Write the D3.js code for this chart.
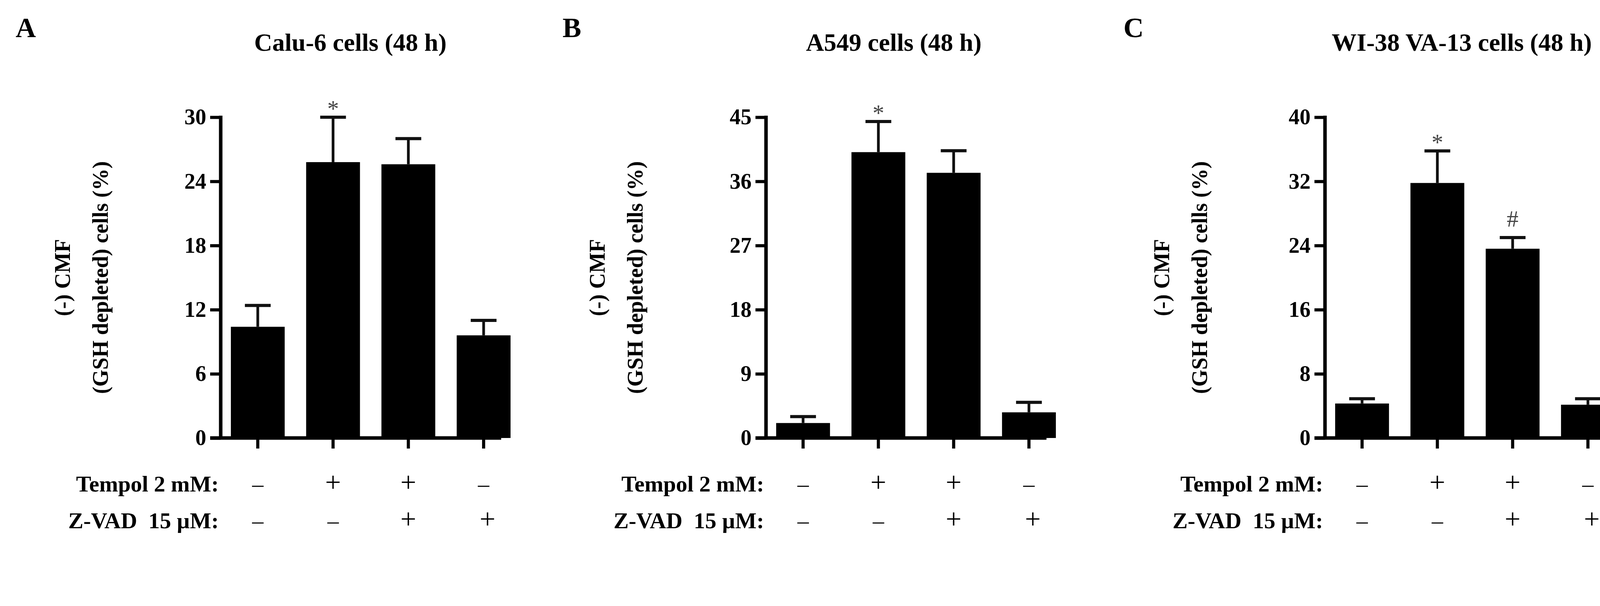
<!DOCTYPE html>
<html>
<head>
<meta charset="utf-8">
<script src="https://cdn.jsdelivr.net/npm/d3@7"></script>
<style>
  body { margin: 0; background: #fff; }
  svg { display: block; font-family: "Liberation Serif", "Times New Roman", serif; font-weight: bold; }
</style>
</head>
<body>
<svg width="4190" height="1551"></svg>
<script>
// Data
var panelLetters = ['A', 'B', 'C'];
var panelTitles = ['Calu-6 cells (48 h)', 'A549 cells (48 h)', 'WI-38 VA-13 cells (48 h)'];
var yMax = [30, 45, 40];
var yTicks = [[0, 6, 12, 18, 24, 30], [0, 9, 18, 27, 36, 45], [0, 8, 16, 24, 32, 40]];
var means = [[10.4, 25.8, 25.6, 9.6], [2.1, 40.1, 37.2, 3.6], [4.3, 31.8, 23.6, 4.15]];
var errTops = [[12.4, 30.0, 28.0, 11.0], [3.0, 44.4, 40.3, 5.0], [4.9, 35.8, 25.0, 4.9]];
var marks = [['', '*', '', ''], ['', '*', '', ''], ['', '*', '#', '']];
var tempol = ['-', '+', '+', '-'];
var zvad = ['-', '-', '+', '+'];
var rowLabels = ['Tempol 2 mM:', 'Z-VAD  15 \u00b5M:'];

// Layout
var axisX = [565, 1961, 3392];
var titleX = [897, 2288, 3742];
var letterX = [40, 1440, 2876];
var yLabelOffset = [-386, -413, -399];
var plotTop = 300, plotBottom = 1121;

var svg = d3.select('svg');

panelTitles.forEach(function (title, p) {
    var g = svg.append('g').attr('transform', 'translate(' + axisX[p] + ',0)');

    var y = d3.scaleLinear().domain([0, yMax[p]]).range([plotBottom, plotTop]);
    var x = d3.scaleBand().domain(d3.range(4)).range([26, 26 + 179 * 4]).paddingInner(0.285).paddingOuter(0);
    var cx = function (i) { return x(i) + x.bandwidth() / 2; };

    svg.append('text').attr('x', letterX[p]).attr('y', 95)
        .attr('font-size', 72).text(panelLetters[p]);
    svg.append('text').attr('x', titleX[p]).attr('y', 130)
        .attr('text-anchor', 'middle').attr('font-size', 64).text(title);

    // bars
    g.selectAll('rect.bar').data(means[p]).enter().append('rect')
        .attr('class', 'bar')
        .attr('x', function (d, i) { return x(i); })
        .attr('width', x.bandwidth())
        .attr('y', function (d) { return y(d); })
        .attr('height', function (d) { return y(0) - y(d); })
        .attr('fill', '#000');

    // error bars
    g.selectAll('line.err').data(means[p]).enter().append('line')
        .attr('class', 'err')
        .attr('x1', function (d, i) { return cx(i); })
        .attr('x2', function (d, i) { return cx(i); })
        .attr('y1', function (d) { return y(d); })
        .attr('y2', function (d, i) { return y(errTops[p][i]); })
        .attr('stroke', '#111').attr('stroke-width', 7);
    g.selectAll('line.cap').data(errTops[p]).enter().append('line')
        .attr('class', 'cap')
        .attr('x1', function (d, i) { return cx(i) - 33; })
        .attr('x2', function (d, i) { return cx(i) + 33; })
        .attr('y1', function (d) { return y(d); })
        .attr('y2', function (d) { return y(d); })
        .attr('stroke', '#111').attr('stroke-width', 8);

    // significance marks
    g.selectAll('text.mark').data(marks[p]).enter().append('text')
        .attr('class', 'mark')
        .attr('x', function (d, i) { return cx(i); })
        .attr('y', function (d, i) { return y(errTops[p][i]) - (d === '#' ? 28 : 2); })
        .attr('text-anchor', 'middle').attr('font-size', 60)
        .attr('font-weight', 'normal').attr('fill', '#444')
        .text(function (d) { return d; });

    // y axis
    var ya = g.append('g').call(d3.axisLeft(y).tickValues(yTicks[p]).tickSize(27).tickPadding(10));
    ya.select('.domain').attr('stroke-width', 9).attr('d', 'M0,' + (plotBottom + 4) + 'V' + (plotTop - 4));
    ya.selectAll('.tick line').attr('stroke-width', 8);
    ya.selectAll('.tick text').attr('font-size', 56).attr('font-family', 'Liberation Serif').attr('font-weight', 'bold').attr('fill', '#000');

    // x axis
    var xa = g.append('g').attr('transform', 'translate(0,' + plotBottom + ')')
        .call(d3.axisBottom(x).tickSize(27).tickFormat(''));
    xa.select('.domain').attr('stroke-width', 9).attr('d', 'M-27,0H718');
    xa.selectAll('.tick line').attr('stroke-width', 8);

    // y label
    var yl = g.append('text').attr('transform', 'translate(' + yLabelOffset[p] + ',' + ((plotTop + plotBottom) / 2) + ') rotate(-90)')
        .attr('text-anchor', 'middle').attr('font-size', 56);
    yl.append('tspan').attr('x', 0).attr('dy', 0).text('(-) CMF');
    yl.append('tspan').attr('x', 0).attr('dy', 97).text('(GSH depleted) cells (%)');

    // condition rows
    [tempol, zvad].forEach(function (row, r) {
        var ry = 1258 + r * 94;
        g.append('text').attr('x', -5).attr('y', ry).attr('text-anchor', 'end')
            .attr('font-size', 58).style('white-space', 'pre').text(rowLabels[r]);
        g.selectAll(null).data(row).enter().append('text')
            .attr('x', function (d, i) { return cx(i) + (r === 1 && i === 3 ? 10 : 0); })
            .attr('y', ry).attr('text-anchor', 'middle')
            .attr('font-weight', 'normal')
            .attr('font-size', function (d) { return d === '+' ? 72 : 58; })
            .text(function (d) { return d === '-' ? '\u2013' : '+'; });
    });
});
</script>
</body>
</html>
